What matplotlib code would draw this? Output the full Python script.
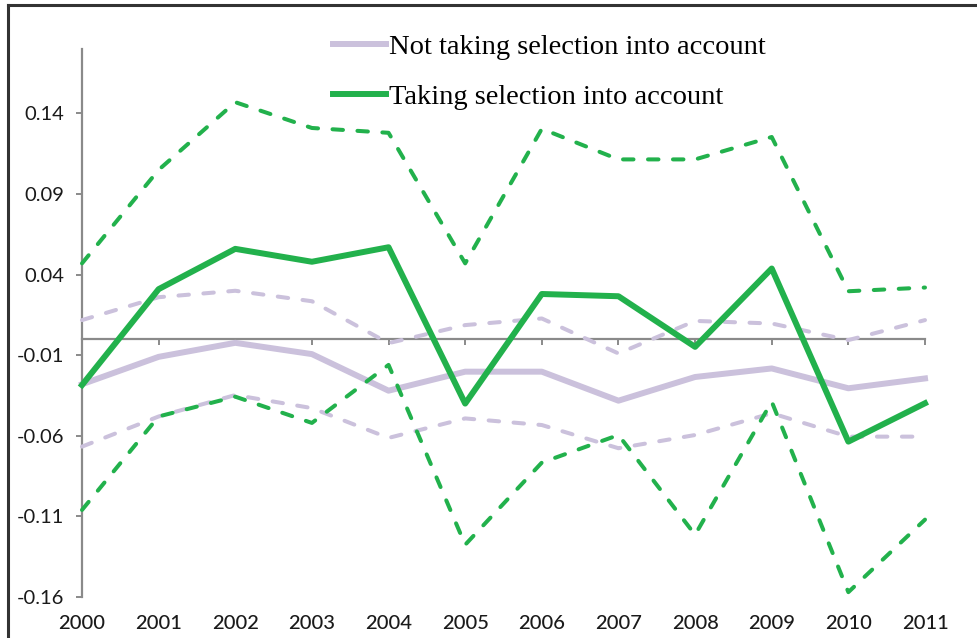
import matplotlib.pyplot as plt
from matplotlib.lines import Line2D

# values
years = list(range(2000, 2012))
taking = [-0.0285, 0.031, 0.056, 0.048, 0.057, -0.040, 0.028, 0.0266, -0.0048, 0.0438, -0.0636, -0.0398]
taking_hi = [0.047, 0.105, 0.147, 0.131, 0.128, 0.047, 0.1305, 0.1115, 0.1115, 0.1254, 0.0297, 0.032]
taking_lo = [-0.106, -0.048, -0.0357, -0.052, -0.016, -0.1276, -0.0766, -0.0595, -0.1214, -0.0388, -0.157, -0.112]
not_taking = [-0.028, -0.011, -0.0023, -0.0093, -0.032, -0.0202, -0.0202, -0.0382, -0.0235, -0.0182, -0.0305, -0.0244]
not_hi = [0.0118, 0.026, 0.030, 0.0235, -0.0025, 0.0087, 0.0128, -0.0089, 0.0113, 0.0097, -0.0006, 0.0118]
not_lo = [-0.0667, -0.048, -0.0347, -0.0428, -0.0613, -0.0492, -0.0533, -0.0677, -0.0595, -0.046, -0.0605, -0.0605]
yticks = [-0.16, -0.11, -0.06, -0.01, 0.04, 0.09, 0.14]

green = '#22b14c'
lav = '#cbc1dc'
axis_grey = '#8a8a8a'
dash = (0, (2.6, 3.6))

fig = plt.figure(figsize=(9.78, 6.38), dpi=100)
ax = fig.add_axes([82/978, 41/638, (925-82)/978, (597-49)/638])

ax.plot(years, not_hi, color=lav, lw=2.9, ls=dash, dash_capstyle='round', zorder=3, clip_on=False)
ax.plot(years, not_lo, color=lav, lw=2.9, ls=dash, dash_capstyle='round', zorder=3, clip_on=False)
l1, = ax.plot(years, not_taking, color=lav, lw=4.3, zorder=3, clip_on=False,
              label='Not taking selection into account')
ax.plot(years, taking_hi, color=green, lw=2.9, ls=dash, dash_capstyle='round', zorder=4, clip_on=False)
ax.plot(years, taking_lo, color=green, lw=2.9, ls=dash, dash_capstyle='round', zorder=4, clip_on=False)
l2, = ax.plot(years, taking, color=green, lw=4.3, zorder=5, clip_on=False,
              label='Taking selection into account')

ax.set_xlim(2000, 2011)
ax.set_ylim(-0.16, 0.18)

# excel style axes: y axis on the left, x axis crossing at zero
ax.spines['top'].set_visible(False)
ax.spines['right'].set_visible(False)
ax.spines['left'].set_color(axis_grey)
ax.spines['left'].set_linewidth(1.6)
ax.spines['bottom'].set_position(('data', 0))
ax.spines['bottom'].set_color(axis_grey)
ax.spines['bottom'].set_linewidth(1.6)

ax.set_yticks(yticks)
ax.set_yticklabels(['%.2f' % v for v in yticks])
ax.set_xticks(years)
ax.tick_params(axis='y', direction='out', length=4, width=1.4, color=axis_grey,
               pad=9, labelsize=14.5, labelcolor='#1a1a1a')
ax.tick_params(axis='x', direction='out', length=4, width=1.4, color=axis_grey,
               labelbottom=False)
for t in ax.get_yticklabels():
    t.set_fontfamily('Lato')

# year labels sit at the bottom of the plot
sec = ax.secondary_xaxis(0)
sec.set_xticks(years)
sec.set_xticklabels([str(y) for y in years])
sec.spines['bottom'].set_visible(False)
sec.tick_params(length=0, pad=13, labelsize=14.5, labelcolor='#1a1a1a')
for t in sec.get_xticklabels():
    t.set_fontfamily('Lato')
    t.set_fontweight('medium')

ax.legend(handles=[l1, l2], loc='upper left', bbox_to_anchor=(333/978, 0.947),
          bbox_transform=fig.transFigure, frameon=False, borderpad=0, borderaxespad=0,
          handlelength=1.85, handletextpad=0.12, labelspacing=0.85,
          prop={'family': 'Liberation Serif', 'size': 20.5})

# outer frame (left and top edges visible in the reference)
fig.add_artist(Line2D([8/978, 8/978], [0, 1 - 5/638], color='#333333', lw=2.2,
                      transform=fig.transFigure))
fig.add_artist(Line2D([8/978, 1], [1 - 5/638, 1 - 5/638], color='#333333', lw=2.2,
                      transform=fig.transFigure))

fig.savefig('out.png', dpi=100)
